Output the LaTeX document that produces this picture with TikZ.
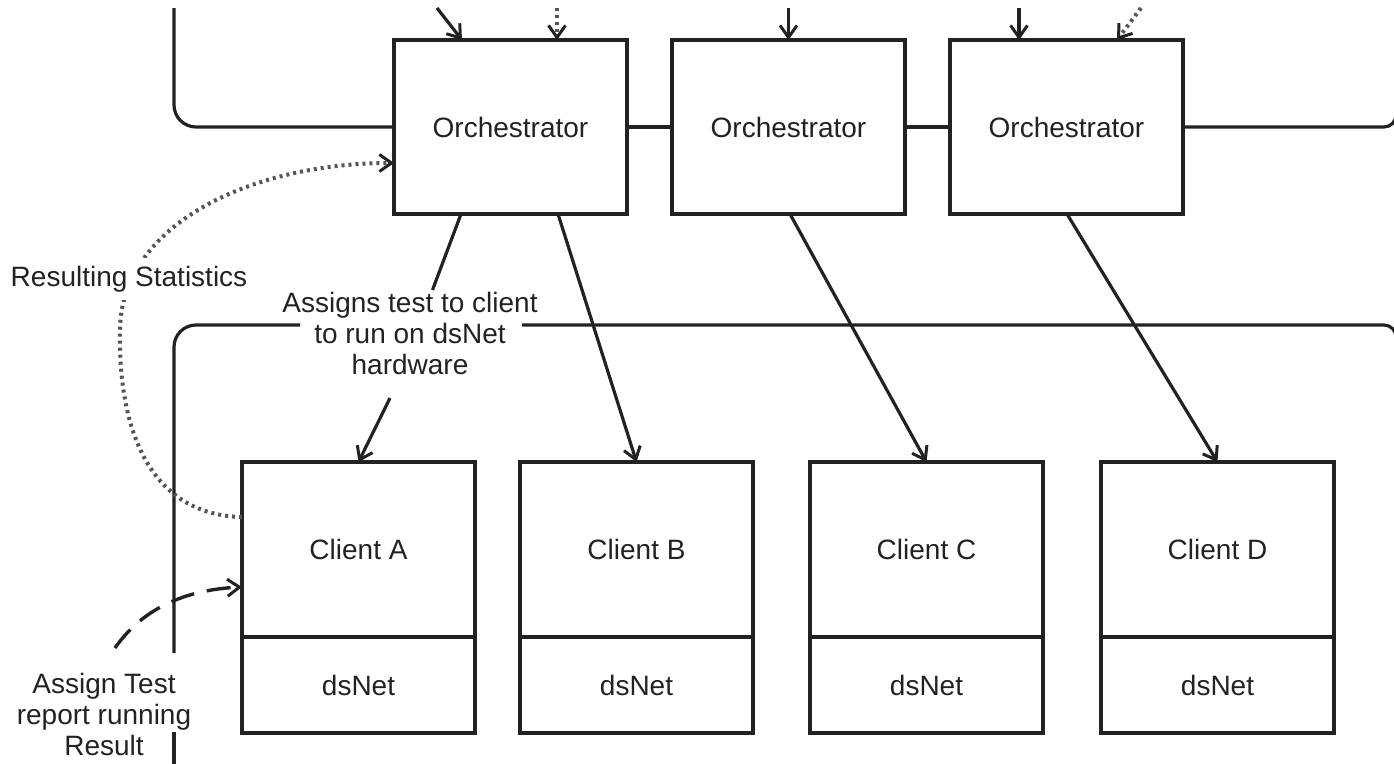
\documentclass[tikz,border=0pt]{standalone}
\usepackage{fontspec}
\setmainfont{Liberation Sans}
\usetikzlibrary{arrows.meta,calc}
\definecolor{ink}{HTML}{222222}
\definecolor{dotc}{HTML}{555555}
\begin{document}
\begin{tikzpicture}[x=1pt,y=-1pt,
  every node/.style={font=\fontsize{28}{31}\selectfont, text=ink},
  box/.style={draw=ink, line width=3.5pt, rectangle, minimum width=233pt, inner sep=0pt, outer sep=0pt},
  orch/.style={box, minimum height=174pt},
  cltop/.style={box, minimum height=175pt},
  clbot/.style={box, minimum height=96pt},
  wire/.style={draw=ink, line width=3.2pt},
  arr/.style={wire, -{Straight Barb[length=12pt,width=17pt,line width=3pt]}},
  dotarr/.style={draw=dotc, line width=4pt, dash pattern=on 3pt off 4pt, -{Straight Barb[length=12pt,width=17pt,line width=3pt,color=ink]}},
  dasharr/.style={draw=ink, line width=3.4pt, dash pattern=on 24pt off 13pt, -{Straight Barb[length=12pt,width=17pt,line width=3pt]}},
  lbl/.style={align=center, inner sep=0pt}
]
\useasboundingbox (0,0) rectangle (1394,763);
\clip (0,0) rectangle (1394,763);

% orchestrators
\node[orch] (o1) at (510.5,127) {Orchestrator};
\node[orch] (o2) at (788.5,127) {Orchestrator};
\node[orch] (o3) at (1066.5,127) {Orchestrator};

% clients
\node[cltop] (ca) at (358.5,549.5) {Client A};
\node[clbot] (da) at (358.5,685) {dsNet};
\node[cltop] (cb) at (636.5,549.5) {Client B};
\node[clbot] (db) at (636.5,685) {dsNet};
\node[cltop] (cc) at (926.5,549.5) {Client C};
\node[clbot] (dc) at (926.5,685) {dsNet};
\node[cltop] (cd) at (1217.5,549.5) {Client D};
\node[clbot] (dd) at (1217.5,685) {dsNet};

% top bus line
\coordinate (tl) at (174,8);
\coordinate (tr) at (1396,8);
\draw[wire, rounded corners=22pt] (tl) -- (174,127) -- (o1.west);
\draw[wire] (o1.east) -- (o2.west);
\draw[wire] (o2.east) -- (o3.west);
\draw[wire, rounded corners=12pt] (o3.east) -- (1396,127) -- (tr);

% second bus line (broken by labels)
\coordinate (gl) at (300,325);
\coordinate (gr) at (522,325);
\coordinate (vb1) at (174,653);
\coordinate (vb2) at (174,732);
\coordinate (vb3) at (174,770);
\coordinate (br) at (1396,400);
\draw[wire, rounded corners=22pt] (vb1) -- (174,325) -- (gl);
\draw[wire, rounded corners=12pt] (gr) -- (1396,325) -- (br);
\draw[wire] (vb2) -- (vb3);

% incoming arrows at the top
\coordinate (i1) at (437,8);
\coordinate (i2) at (557,8);
\coordinate (i3) at (788.5,8);
\coordinate (i4) at (1019,8);
\coordinate (i5) at (1141,8);
\draw[arr] (i1) -- ($(o1.north west)+(68,0)$);
\draw[dotarr] (i2) -- ($(o1.north west)+(163,0)$);
\draw[arr] (i3) -- (o2.north);
\draw[arr] (i4) -- ($(o3.north west)+(69,0)$);
\draw[dotarr] (i5) -- ($(o3.north west)+(167,0)$);

% orchestrator -> client arrows
\node[lbl] (assigns) at (410,333) {Assigns test to client\\to run on dsNet\\hardware};
\coordinate (s1a) at (432.5,290);
\coordinate (s1b) at (390,398);
\draw[wire] ($(o1.south west)+(67,0)$) -- (s1a);
\draw[arr] (s1b) -- (ca.north);
\draw[arr] ($(o1.south west)+(164,0)$) -- (cb.north);
\draw[arr] ($(o2.south west)+(118,0)$) -- (cc.north);
\draw[arr] ($(o3.south west)+(117,0)$) -- (cd.north);

% resulting statistics (dotted curve)
\draw[dotarr] ($(ca.north west)+(0,55)$) .. controls (150,515) and (118,430) .. (120,330)
   .. controls (121,225) and (250,163) .. ($(o1.north west)+(0,123)$);
\node[lbl, fill=white, inner xsep=3pt, inner ysep=8pt] (stats) at (129,279) {Resulting Statistics};

% assign test (dashed curve)
\node[lbl] (assign) at (104,714) {Assign Test\\report running\\Result};
\coordinate (ds) at (115,648);
\draw[dasharr] (ds) .. controls (140,612) and (180,590) .. ($(ca.north west)+(0,125)$);
\end{tikzpicture}
\end{document}
